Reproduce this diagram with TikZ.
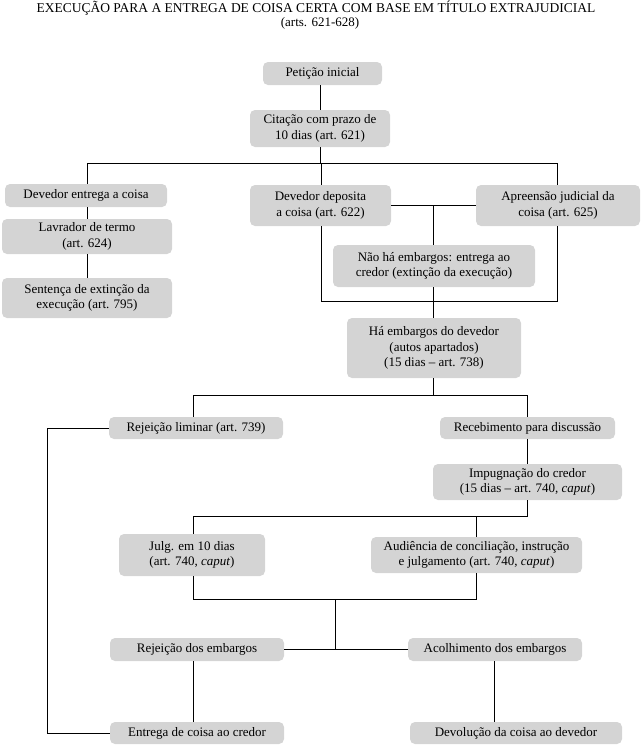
\documentclass[tikz,border=0pt]{standalone}
\usepackage{fontspec}
\setmainfont{Liberation Serif}
\definecolor{boxgray}{RGB}{212,212,212}
\tikzset{
  bx/.style={fill=boxgray, rounded corners=5pt, align=center, inner sep=0pt, font=\fontsize{13}{15.5}\selectfont},
  ln/.style={draw=black, line width=0.9pt}
}
\begin{document}
\begin{tikzpicture}[x=1pt,y=-1pt]
\useasboundingbox (0,0) rectangle (641,745);
\node[font=\fontsize{13.5}{15}\selectfont] (t1) at (316,8) {EXECUÇÃO PARA A ENTREGA DE COISA CERTA COM BASE EM TÍTULO EXTRAJUDICIAL};
\node[font=\fontsize{13}{15}\selectfont] (t2) at (320,23) {(arts. 621-628)};

\node[bx, minimum width=119pt, minimum height=23pt] (pet) at (322.5,73.5) {Petição inicial};
\node[bx, minimum width=140pt, minimum height=37pt] (cit) at (320,128.5) {Citação com prazo de\\10 dias (art. 621)};
\node[bx, minimum width=162pt, minimum height=23pt] (dev) at (86,195.5) {Devedor entrega a coisa};
\node[bx, minimum width=170pt, minimum height=35pt] (lav) at (87,236.5) {Lavrador de termo\\(art. 624)};
\node[bx, minimum width=170pt, minimum height=40pt] (sen) at (87,298) {Sentença de extinção da\\execução (art. 795)};
\node[bx, minimum width=141pt, minimum height=41pt] (dep) at (320.5,205.5) {Devedor deposita\\a coisa (art. 622)};
\node[bx, minimum width=164pt, minimum height=41pt] (apr) at (558,205.5) {Apreensão judicial da\\coisa (art. 625)};
\node[bx, minimum width=202pt, minimum height=42pt] (nao) at (434,266) {Não há embargos: entrega ao\\credor (extinção da execução)};
\node[bx, minimum width=174pt, minimum height=60pt] (ha) at (434,348) {Há embargos do devedor\\(autos apartados)\\(15 dias -- art. 738)};
\node[bx, minimum width=174pt, minimum height=22pt] (rl) at (196,428) {Rejeição liminar (art. 739)};
\node[bx, minimum width=175pt, minimum height=22pt] (rec) at (527.5,428) {Recebimento para discussão};
\node[bx, minimum width=189pt, minimum height=36pt] (imp) at (527.5,482) {Impugnação do credor\\(15 dias -- art. 740, \textit{caput})};
\node[bx, minimum width=146pt, minimum height=42pt] (jul) at (192,555) {Julg. em 10 dias\\(art. 740, \textit{caput})};
\node[bx, minimum width=211pt, minimum height=36pt] (aud) at (476.5,555) {Audiência de conciliação, instrução\\e julgamento (art. 740, \textit{caput})};
\node[bx, minimum width=174pt, minimum height=23pt] (rde) at (197,649.5) {Rejeição dos embargos};
\node[bx, minimum width=174pt, minimum height=23pt] (aco) at (495,649.5) {Acolhimento dos embargos};
\node[bx, minimum width=174pt, minimum height=22pt] (ent) at (197,733) {Entrega de coisa ao credor};
\node[bx, minimum width=212pt, minimum height=22pt] (dvl) at (516,733) {Devolução da coisa ao devedor};

\coordinate (h1) at (320,163);
\coordinate (j1) at (433,205);
\coordinate (h2) at (433,301);
\coordinate (h3) at (433,395);
\coordinate (h4) at (476,516);
\coordinate (h5) at (335,599);
\coordinate (lx) at (47,428);

% top
\draw[ln] (cit.north |- pet.south) -- (cit.north);
\draw[ln] (cit.south) -- (h1);
\draw[ln] (87,163) -- (557,163);
\draw[ln] (87,163) -- (dev.north -| 87,0);
\draw[ln] (321,163) -- (dep.north -| 321,0);
\draw[ln] (557,163) -- (apr.north -| 557,0);
\draw[ln] (dev.south -| 87,0) -- (lav.north -| 87,0);
\draw[ln] (lav.south -| 87,0) -- (sen.north -| 87,0);
% deposit / apprehension
\draw[ln] (dep.east |- j1) -- (apr.west |- j1);
\draw[ln] (j1) -- (nao.north -| j1);
\draw[ln] (dep.south -| 321,0) -- (321,301) -- (557,301) -- (apr.south -| 557,0);
\draw[ln] (nao.south -| j1) -- (ha.north -| j1);
% embargos
\draw[ln] (ha.south -| h3) -- (h3);
\draw[ln] (rl.north -| 193,0) -- (193,395) -- (527,395) -- (rec.north -| 527,0);
\draw[ln] (rl.west) -- (lx) -- (lx |- ent.west) -- (ent.west);
\draw[ln] (rec.south -| 527,0) -- (imp.north -| 527,0);
\draw[ln] (imp.south -| 527,0) -- (527,516) -- (193,516) -- (jul.north -| 193,0);
\draw[ln] (h4) -- (aud.north -| h4);
\draw[ln] (jul.south -| 193,0) -- (193,599) -- (476,599) -- (aud.south -| 476,0);
\draw[ln] (h5) -- (h5 |- rde.east);
\draw[ln] (rde.east) -- (aco.west);
\draw[ln] (rde.south -| 193,0) -- (ent.north -| 193,0);
\draw[ln] (aco.south -| 494,0) -- (dvl.north -| 494,0);
\end{tikzpicture}
\end{document}
